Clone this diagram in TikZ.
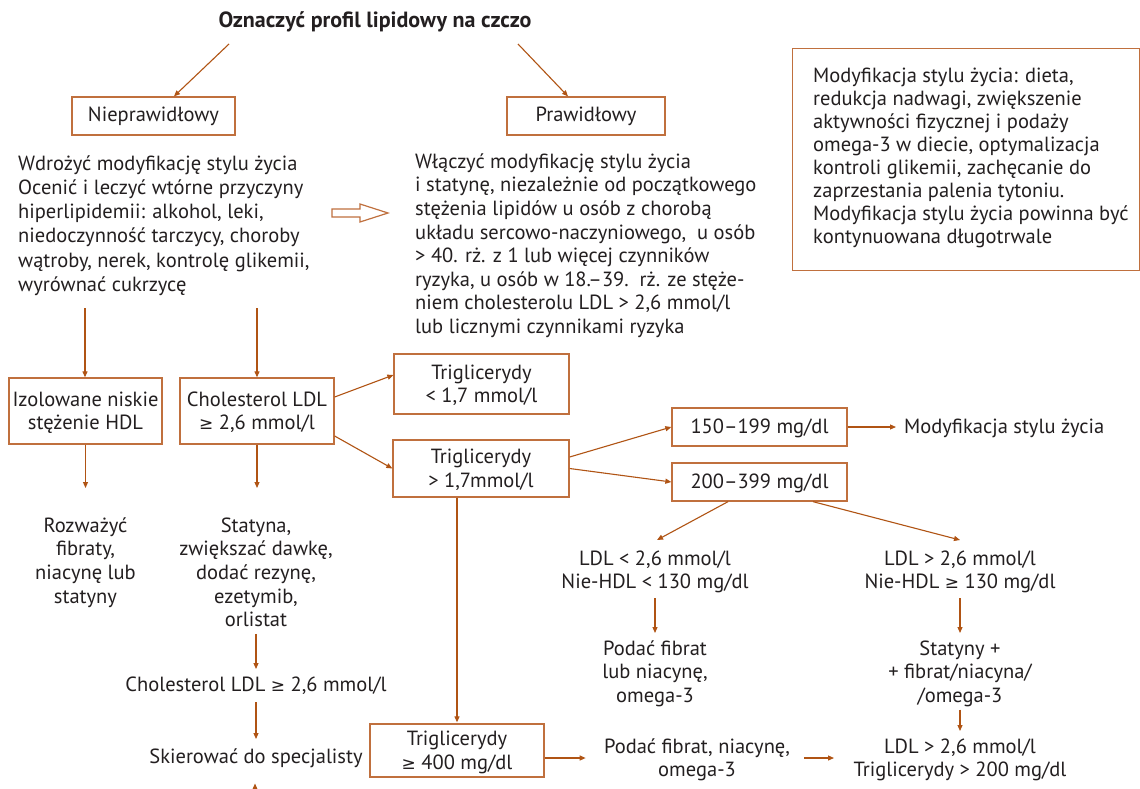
\documentclass[tikz,border=0pt]{standalone}
\usepackage{fontspec}
\setmainfont{PT Sans}
\newfontfamily\symfont{DejaVu Sans}
\usetikzlibrary{arrows.meta,calc}
\definecolor{lncol}{RGB}{176,84,20}
\definecolor{bxcol}{RGB}{192,112,62}
\definecolor{txcol}{RGB}{35,31,32}
\newcommand\fst{\rule{0pt}{17pt}}
\newcommand\bA{\rule{0pt}{20.6pt}}
\newcommand\bZ{\rule[-7pt]{0pt}{7pt}}
\newcommand\sS{\rule[-6pt]{0pt}{24pt}}
\newcommand\GE{{\symfont\fontsize{17}{20}\selectfont ≥}}
\begin{document}
\begin{tikzpicture}[x=1pt,y=-1pt,
  every node/.style={text=txcol,font=\fontsize{20.5}{23.6}\selectfont,inner sep=0pt},
  box/.style={draw=bxcol,line width=1.3pt,align=center},
  txt/.style={align=center,anchor=north},
  ltxt/.style={align=left,anchor=north west},
  arr/.style={draw=lncol,line width=1.1pt,-{Triangle[length=6pt,width=5pt]}}]
\useasboundingbox[fill=white] (0,0) rectangle (1140,789);

% title
\node[anchor=base,font=\bfseries\fontsize{22}{24}\selectfont] (title) at (375,28) {Oznaczyć profil lipidowy na czczo};
\coordinate (t1) at (229,44);
\coordinate (t2) at (518,44);

\node[box,minimum width=163,minimum height=38] (niep) at (153.5,116) {\sS Nieprawidłowy};
\node[box,minimum width=158,minimum height=38] (praw) at (586,116) {\sS Prawidłowy};
\draw[arr] (t1) -- ($(niep.north)+(20.5,0)$);
\draw[arr] (t2) -- ($(praw.north)+(-18,0)$);

% left text
\node[ltxt,font=\fontsize{20.5}{24.2}\selectfont] (ltext) at (18,153) {\fst Wdrożyć modyfikację stylu życia\\
Ocenić i leczyć wtórne przyczyny\\
hiperlipidemii: alkohol, leki,\\
niedoczynność tarczycy, choroby\\
wątroby, nerek, kontrolę glikemii,\\
wyrównać cukrzycę};

% hollow arrow
\draw[bxcol,line width=1.2pt,fill=white] (332,209) -- (360,209) -- (360,204) -- (388,213) -- (360,222) -- (360,217) -- (332,217) -- cycle;

% middle text
\node[ltxt] (mtext) at (415,151) {\fst Włączyć modyfikację stylu życia\\
i statynę, niezależnie od początkowego\\
stężenia lipidów u osób z chorobą\\
układu sercowo-naczyniowego,\ \ u osób\\
> 40. rż. z 1 lub więcej czynników\\
ryzyka, u osób w 18.–39.\ \ rż. ze stęże-\\
niem cholesterolu LDL > 2,6 mmol/l\\
lub licznymi czynnikami ryzyka};

% right box
\node[box,anchor=north west,minimum width=347,minimum height=222] (rbox) at (792,48) {};
\node[ltxt,font=\fontsize{20.5}{23}\selectfont] (rtext) at (813,65) {\fst Modyfikacja stylu życia: dieta,\\
redukcja nadwagi, zwiększenie\\
aktywności fizycznej i podaży\\
omega-3 w diecie, optymalizacja\\
kontroli glikemii, zachęcanie do\\
zaprzestania palenia tytoniu.\\
Modyfikacja stylu życia powinna być\\
kontynuowana długotrwale};

% second row boxes
\coordinate (c1) at (85,308);
\coordinate (c2) at (257,308);
\node[box,minimum width=153,minimum height=66] (izo) at (85.5,411) {\bA Izolowane niskie\\stężenie HDL\bZ};
\node[box,minimum width=154,minimum height=66] (chol) at (257,411) {\bA Cholesterol LDL\\\GE{} 2,6 mmol/l\bZ};
\draw[arr] (c1) -- (c1 |- izo.north);
\draw[arr] (c2) -- (c2 |- chol.north);

\node[box,minimum width=175,minimum height=60] (tlow) at (481.5,384) {\bA Triglicerydy\\< 1,7 mmol/l\bZ};
\node[box,minimum width=176,minimum height=57] (thigh) at (481,468.5) {\bA Triglicerydy\\> 1,7mmol/l\bZ};
\draw[arr] ($(chol.east)+(0,-14)$) -- ($(tlow.west)+(0,-9)$);
\draw[arr] ($(chol.east)+(0,25)$) -- (thigh.west);

\node[box,minimum width=175,minimum height=38] (b150) at (759.5,427) {\sS 150–199 mg/dl};
\node[box,minimum width=175,minimum height=38] (b200) at (759.5,482) {\sS 200–399 mg/dl};
\draw[arr] ($(thigh.east)+(0,-11.5)$) -- (b150.west);
\draw[arr] (thigh.east) -- (b200.west);

\node[anchor=base west] (mod) at (904,433) {Modyfikacja stylu życia};
\draw[arr] (b150.east) -- ($(mod.west |- b150.east)+(-8,0)$);

% left column
\node[txt] (rozw) at (85.5,515) {\fst Rozważyć\\fibraty,\\niacynę lub\\statyny};
\node[txt] (stat1) at (256,515) {\fst Statyna,\\zwiększać dawkę,\\dodać rezynę,\\ezetymib,\\orlistat\strut};
\draw[arr] (izo.south) -- ($(rozw.north)+(0,-27)$);
\draw[arr] (chol.south) -- ($(chol.south |- rozw.north)+(0,-27)$);

\node[txt] (chol2) at (256,674) {\fst Cholesterol LDL \GE{} 2,6 mmol/l\strut};
\node[txt] (skier) at (256,746) {\fst Skierować do specjalisty\strut};
\draw[arr] (stat1.south) -- ($(chol2.north)+(0,-5)$);
\draw[arr] ($(chol2.south)+(0,4)$) -- ($(skier.north)+(0,-7)$);
\coordinate (bot) at (255,789);
\draw[arr] (bot) -- ($(skier.south)+(-1,13)$);

% Trig >= 400
\node[box,minimum width=174,minimum height=53] (t400) at (457,750.5) {\bA Triglicerydy\\\GE{} 400 mg/dl\bZ};
\draw[arr] ($(thigh.south)+(-24,0)$) -- ($(t400.north)+(0,-1)$);

% right column
\node[txt] (ldl1) at (655,548) {\fst LDL < 2,6 mmol/l\\Nie-HDL < 130 mg/dl\strut};
\node[txt] (ldl2) at (960,548) {\fst LDL > 2,6 mmol/l\\Nie-HDL \GE{} 130 mg/dl\strut};
\draw[arr] ($(b200.south)+(-31.5,0)$) -- ($(ldl1.north)+(2,-8)$);
\draw[arr] ($(b200.south)+(53.5,0)$) -- ($(ldl2.north)+(0,-8)$);

\node[txt] (pod1) at (655,638) {\fst Podać fibrat\\lub niacynę,\\omega-3\strut};
\node[txt] (stat2) at (960,638) {\fst Statyny +\\+ fibrat/niacyna/\\/omega-3\strut};
\draw[arr] ($(ldl1.south)+(0,2)$) -- ($(pod1.north)+(0,-5)$);
\draw[arr] ($(ldl2.south)+(0,2)$) -- ($(stat2.north)+(0,-5)$);

\node[txt] (podF) at (697,736) {\fst Podać fibrat, niacynę,\\omega-3};
\node[txt] (ldl3) at (960,736) {\fst LDL > 2,6 mmol/l\\Triglicerydy > 200 mg/dl};
\draw[arr] (stat2.south) -- ($(ldl3.north)+(0,-5)$);
\draw[arr] ($(t400.east)+(0,7.5)$) -- ($(t400.east)+(41,7.5)$);
\draw[arr] ($(podF.north)+(107,22)$) -- ($(ldl3.north)+(-126,22)$);
\end{tikzpicture}
\end{document}
